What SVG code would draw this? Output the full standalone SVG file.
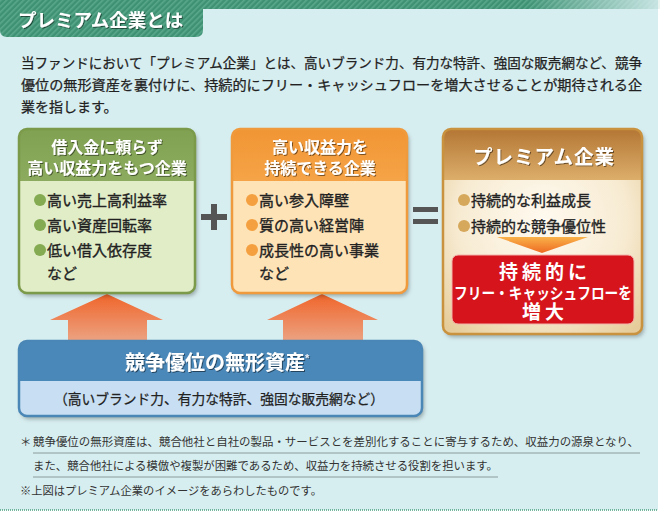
<svg xmlns="http://www.w3.org/2000/svg" width="660" height="514" viewBox="0 0 660 514">
<style>
.jp{font-family:"Liberation Sans","Noto Sans CJK JP",sans-serif}
.b{font-weight:bold}
.wh{fill:#fff}
.dk{fill:#222}
.hd{font-size:16px;font-weight:bold;fill:#fff;text-anchor:middle}
.li{font-size:15px;fill:#222;stroke:#222;stroke-width:0.35}
.fn{font-size:11.4px;fill:#333}
.ul{stroke:#8a9a9c;stroke-width:1}
</style>
<defs>
<pattern id="stripe" width="4" height="4" patternUnits="userSpaceOnUse" patternTransform="rotate(45)">
<rect width="4" height="4" fill="#3f9174"/><rect width="1.6" height="4" fill="#5aa88b"/>
</pattern>
<linearGradient id="fade" x1="0" y1="0" x2="1" y2="0">
<stop offset="0.8" stop-color="#fff"/><stop offset="1" stop-color="#fff" stop-opacity="0.1"/>
</linearGradient>
<mask id="bandMask"><rect x="0" y="0" width="660" height="10" fill="url(#fade)"/></mask>
<linearGradient id="arrowG" x1="0" y1="0" x2="0" y2="1">
<stop offset="0" stop-color="#f0652a"/><stop offset="1" stop-color="#eba88a"/>
</linearGradient>
<linearGradient id="chevG" x1="0" y1="0" x2="0" y2="1">
<stop offset="0" stop-color="#f9b24a"/><stop offset="1" stop-color="#ee6a22"/>
</linearGradient>
<linearGradient id="greenH" x1="0" y1="0" x2="0" y2="1">
<stop offset="0" stop-color="#80a152"/><stop offset="1" stop-color="#8cab5e"/>
</linearGradient>
<linearGradient id="orangeH" x1="0" y1="0" x2="0" y2="1">
<stop offset="0" stop-color="#f19534"/><stop offset="1" stop-color="#f5a447"/>
</linearGradient>
<linearGradient id="premH" x1="0" y1="0" x2="0" y2="1">
<stop offset="0" stop-color="#b47634"/><stop offset="1" stop-color="#dcae6a"/>
</linearGradient>
<radialGradient id="premB" cx="0.5" cy="0.45" r="0.7">
<stop offset="0" stop-color="#fffaf0"/><stop offset="0.6" stop-color="#f7ebd2"/><stop offset="1" stop-color="#e6cc9a"/>
</radialGradient>
<filter id="sh" x="-10%" y="-10%" width="125%" height="125%">
<feDropShadow dx="2" dy="3" stdDeviation="2" flood-color="#000" flood-opacity="0.3"/>
</filter>
<filter id="ts" x="-5%" y="-20%" width="110%" height="140%">
<feDropShadow dx="1" dy="1" stdDeviation="0.6" flood-color="#000" flood-opacity="0.5"/>
</filter>
</defs>

<!-- background panel -->
<rect x="0" y="0" width="660" height="514" fill="#fff"/>
<rect x="0" y="0" width="658" height="510" fill="#d7eef0"/>
<rect x="0" y="0" width="660" height="9" fill="url(#stripe)" mask="url(#bandMask)"/>
<line x1="0" y1="510" x2="658" y2="510" stroke="#4aa080" stroke-width="1.5" stroke-dasharray="1 1"/>

<g id="title">
<path d="M0,0 H203 V30 Q203,37 196,37 H7 Q0,37 0,30 Z" fill="url(#stripe)"/>
<text x="18" y="27" class="jp b wh" font-size="18.5" filter="url(#ts)">プレミアム企業とは</text>
</g>

<g id="intro" class="jp dk" font-size="13.5" stroke="#222" stroke-width="0.25">
<text x="21" y="68" textLength="621" lengthAdjust="spacingAndGlyphs">当ファンドにおいて「プレミアム企業」とは、高いブランド力、有力な特許、強固な販売網など、競争</text>
<text x="21" y="90" textLength="621" lengthAdjust="spacingAndGlyphs">優位の無形資産を裏付けに、持続的にフリー・キャッシュフローを増大させることが期待される企</text>
<text x="21" y="112" font-size="14">業を指します。</text>
</g>

<g id="connectors">
<path d="M107,294 L163,320 H147 V345 H68 V320 H50 Z" fill="url(#arrowG)"/>
<path d="M322,294 L378,320 H363 V345 H283 V320 H267 Z" fill="url(#arrowG)"/>
<g fill="#555">
<rect x="201" y="214" width="26" height="6"/>
<rect x="211" y="204" width="6" height="26"/>
<rect x="413" y="207" width="25" height="5"/>
<rect x="413" y="219" width="25" height="5"/>
</g>
</g>

<g id="node-green">
<rect x="19" y="129" width="176" height="164" rx="8" fill="#e1edc7" filter="url(#sh)"/>
<path d="M19,181 V137 Q19,129 27,129 H187 Q195,129 195,137 V181 Z" fill="url(#greenH)"/>
<rect x="19" y="129" width="176" height="164" rx="8" fill="none" stroke="#7b9a4a" stroke-width="2.5"/>
<g class="jp" filter="url(#ts)">
<text x="107" y="153" class="hd">借入金に頼らず</text>
<text x="107" y="174" class="hd">高い収益力をもつ企業</text>
</g>
<g fill="#84aa52">
<circle cx="40" cy="200" r="6"/><circle cx="40" cy="225" r="6"/><circle cx="40" cy="250" r="6"/>
</g>
<g class="jp li">
<text x="47" y="205.5">高い売上高利益率</text>
<text x="47" y="230.5">高い資産回転率</text>
<text x="47" y="255.5">低い借入依存度</text>
<text x="47" y="279">など</text>
</g>
</g>

<g id="node-orange">
<rect x="232" y="129" width="175" height="164" rx="8" fill="#fde3b6" filter="url(#sh)"/>
<path d="M232,181 V137 Q232,129 240,129 H399 Q407,129 407,137 V181 Z" fill="url(#orangeH)"/>
<rect x="232" y="129" width="175" height="164" rx="8" fill="none" stroke="#f09a3e" stroke-width="2.5"/>
<g class="jp" filter="url(#ts)">
<text x="320" y="153" class="hd">高い収益力を</text>
<text x="320" y="174" class="hd">持続できる企業</text>
</g>
<g fill="#f4a040">
<circle cx="252" cy="200" r="6"/><circle cx="252" cy="225" r="6"/><circle cx="252" cy="250" r="6"/>
</g>
<g class="jp li">
<text x="259" y="205.5">高い参入障壁</text>
<text x="259" y="230.5">質の高い経営陣</text>
<text x="259" y="255.5">成長性の高い事業</text>
<text x="259" y="279">など</text>
</g>
</g>

<g id="node-premium">
<rect x="443" y="129" width="199" height="205" rx="8" fill="url(#premB)" filter="url(#sh)"/>
<path d="M443,180 V137 Q443,129 451,129 H634 Q642,129 642,137 V180 Z" fill="url(#premH)"/>
<rect x="443" y="129" width="199" height="205" rx="8" fill="none" stroke="#c9923f" stroke-width="2.5"/>
<text x="544" y="164" class="jp b wh" font-size="19.5" text-anchor="middle" letter-spacing="1" filter="url(#ts)">プレミアム企業</text>
<g fill="#d6a85c">
<circle cx="464" cy="200" r="6"/><circle cx="464" cy="226" r="6"/>
</g>
<g class="jp li">
<text x="471" y="205.5">持続的な利益成長</text>
<text x="471" y="231.5">持続的な競争優位性</text>
</g>
<path d="M497,237 H588 L542,253 Z" fill="url(#chevG)"/>
<rect x="452" y="255" width="182" height="69" rx="6" fill="#d5141c" stroke="#f3b4ac" stroke-width="1"/>
<g class="jp b wh" text-anchor="middle">
<text x="545" y="279" font-size="19" letter-spacing="4">持続的に</text>
<text x="543" y="298.5" font-size="15.5" textLength="178" lengthAdjust="spacingAndGlyphs">フリー・キャッシュフローを</text>
<text x="545" y="319" font-size="19" letter-spacing="4">増大</text>
</g>
</g>

<g id="node-blue">
<rect x="19" y="341" width="403" height="75" rx="8" fill="#c8dff3" filter="url(#sh)"/>
<path d="M19,381 V349 Q19,341 27,341 H414 Q422,341 422,349 V381 Z" fill="#4a88ba"/>
<rect x="19" y="341" width="403" height="75" rx="8" fill="none" stroke="#4a86b6" stroke-width="2.5"/>
<text x="125" y="370" class="jp b wh" font-size="20" filter="url(#ts)">競争優位の無形資産<tspan font-size="11" dy="-8" fill="#e8eef5">*</tspan></text>
<text x="219" y="403.5" class="jp dk" font-size="14" stroke="#222" stroke-width="0.25" text-anchor="middle" textLength="330" lengthAdjust="spacingAndGlyphs">（高いブランド力、有力な特許、強固な販売網など）</text>
</g>

<g id="footnotes" class="jp fn">
<text x="20" y="446">＊</text>
<text x="33" y="446" textLength="606" lengthAdjust="spacingAndGlyphs">競争優位の無形資産は、競合他社と自社の製品・サービスとを差別化することに寄与するため、収益力の源泉となり、</text>
<line x1="33" y1="453" x2="640" y2="453" class="ul"/>
<text x="33" y="470" textLength="465" lengthAdjust="spacingAndGlyphs">また、競合他社による模倣や複製が困難であるため、収益力を持続させる役割を担います。</text>
<line x1="33" y1="477" x2="498" y2="477" class="ul"/>
<text x="20" y="495" textLength="302" lengthAdjust="spacingAndGlyphs">※上図はプレミアム企業のイメージをあらわしたものです。</text>
</g>
</svg>
